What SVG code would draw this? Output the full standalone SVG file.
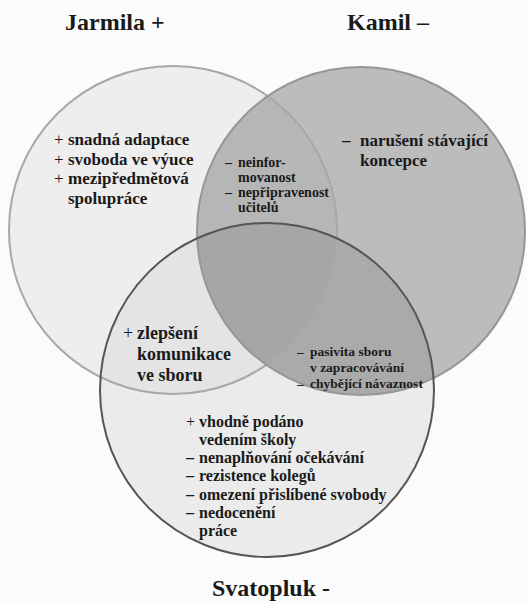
<svg xmlns="http://www.w3.org/2000/svg" width="527" height="603" viewBox="0 0 527 603">
<defs>
<clipPath id="cJ"><circle cx="173" cy="230" r="164"/></clipPath>
<clipPath id="cK"><circle cx="361" cy="231" r="164"/></clipPath>
</defs>
<rect width="527" height="603" fill="#fbfbfb"/>
<g id="fills">
<circle cx="173" cy="230" r="164" fill="#eeeeee"/>
<circle cx="361" cy="231" r="164" fill="#bcbcbc"/>
<circle cx="267" cy="390" r="167" fill="#ebebeb"/>
<g clip-path="url(#cJ)">
<circle cx="361" cy="231" r="164" fill="#b6b6b6"/>
<circle cx="267" cy="390" r="167" fill="#e4e4e4"/>
</g>
<g clip-path="url(#cK)">
<circle cx="267" cy="390" r="167" fill="#aaaaaa"/>
<g clip-path="url(#cJ)">
<circle cx="267" cy="390" r="167" fill="#a6a6a6"/>
</g>
</g>
</g>
<g id="connectors"></g>
<g font-family="Liberation Serif" font-weight="bold" fill="#1a1a1a">
<g id="jarmila">
<circle cx="173" cy="230" r="164" fill="none" stroke="#a8a8a8" stroke-width="2"/>
<text font-size="24" x="65" y="30">Jarmila +</text>
<g font-size="17">
<text><tspan font-weight="normal" x="54" y="145">+</tspan><tspan x="68" y="145">snadná adaptace</tspan></text>
<text><tspan font-weight="normal" x="54" y="164.5">+</tspan><tspan x="68" y="164.5">svoboda ve výuce</tspan></text>
<text><tspan font-weight="normal" x="54" y="184">+</tspan><tspan x="68" y="184">mezipředmětová</tspan></text>
<text x="68" y="203.5">spolupráce</text>
</g>
</g>
<g id="kamil">
<circle cx="361" cy="231" r="164" fill="none" stroke="#969696" stroke-width="2"/>
<text font-size="24" x="347" y="30">Kamil –</text>
<g font-size="17">
<text><tspan x="342" y="146">–</tspan><tspan x="360" y="146">narušení stávající</tspan></text>
<text x="360" y="166">koncepce</text>
</g>
</g>
<g id="svatopluk">
<circle cx="267" cy="390" r="167" fill="none" stroke="#555555" stroke-width="2"/>
<text font-size="24" x="212" y="596">Svatopluk -</text>
<g font-size="16">
<text><tspan font-weight="normal" x="186" y="427">+</tspan><tspan x="199" y="427">vhodně podáno</tspan></text>
<text x="199" y="445">vedením školy</text>
<text><tspan x="186" y="463">–</tspan><tspan x="199" y="463">nenaplňování očekávání</tspan></text>
<text><tspan x="186" y="481">–</tspan><tspan x="199" y="481">rezistence kolegů</tspan></text>
<text><tspan x="186" y="500">–</tspan><tspan x="199" y="500">omezení přislíbené svobody</tspan></text>
<text><tspan x="186" y="518">–</tspan><tspan x="199" y="518">nedocenění</tspan></text>
<text x="199" y="536">práce</text>
</g>
</g>
<g id="jarmila-kamil" font-size="14">
<text><tspan x="225" y="167">–</tspan><tspan x="238" y="167">neinfor-</tspan></text>
<text x="238" y="182">movanost</text>
<text><tspan x="225" y="197">–</tspan><tspan x="238" y="197">nepřipravenost</tspan></text>
<text x="238" y="212">učitelů</text>
</g>
<g id="jarmila-svatopluk" font-size="18">
<text><tspan font-weight="normal" x="123" y="339">+</tspan><tspan x="137" y="339">zlepšení</tspan></text>
<text x="137" y="360">komunikace</text>
<text x="137" y="381">ve sboru</text>
</g>
<g id="kamil-svatopluk" font-size="13.5">
<text><tspan x="297" y="356">–</tspan><tspan x="310" y="356">pasivita sboru</tspan></text>
<text x="310" y="372">v zapracovávání</text>
<text><tspan x="297" y="387.5">–</tspan><tspan x="310" y="387.5">chybějící návaznost</tspan></text>
</g>
</g>
</svg>
